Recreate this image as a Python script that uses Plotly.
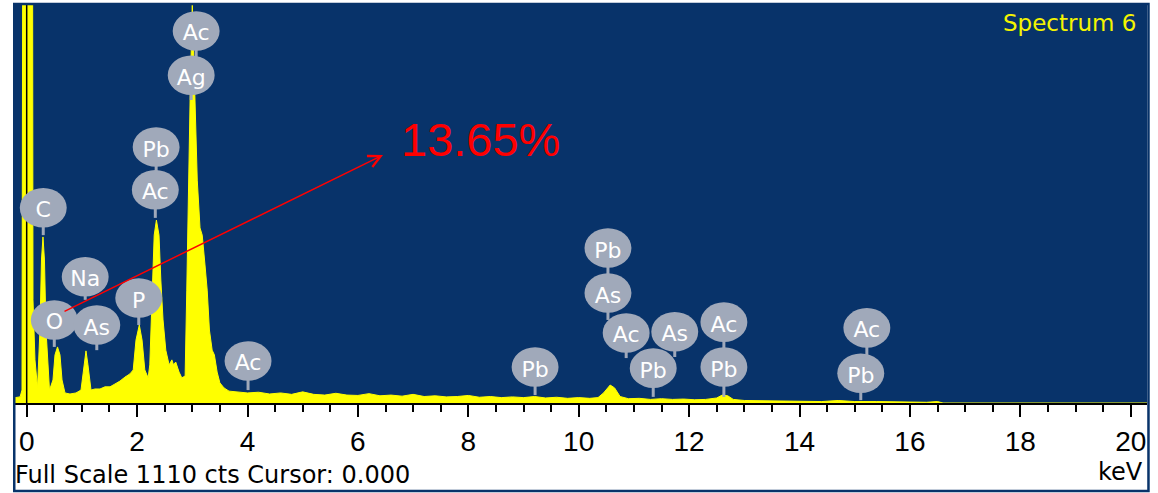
import plotly.graph_objects as go

# ---------------- data ----------------
# EDS spectrum: energy (keV) and counts
energy_kev = [-0.25, -0.12, -0.085, -0.07, 0.105, 0.114, 0.15, 0.196, 0.24, 0.268, 0.295, 0.322, 0.35,
              0.413, 0.476, 0.513, 0.558, 0.603, 0.64, 0.694, 0.784, 0.893, 0.984, 1.04, 1.074, 1.11,
              1.165, 1.237, 1.328, 1.418, 1.51, 1.6, 1.69, 1.78, 1.87, 1.93, 1.98, 2.04, 2.09, 2.14,
              2.2, 2.23, 2.27, 2.31, 2.35, 2.397, 2.43, 2.47, 2.52, 2.58, 2.63, 2.66, 2.70, 2.76, 2.81,
              2.87, 2.90, 2.93, 2.96, 3.00, 3.05, 3.09, 3.14, 3.18, 3.23, 3.27, 3.31, 3.36, 3.40, 3.45,
              3.50, 3.575, 3.665, 3.8, 4.0, 4.2, 4.4, 4.6, 4.8, 5.0, 5.2, 5.4, 5.6, 5.8, 6.0, 6.2, 6.4,
              6.6, 6.8, 7.0, 7.2, 7.4, 7.6, 7.8, 8.0, 8.2, 8.4, 8.6, 8.8, 9.0, 9.2, 9.4, 9.6, 9.8, 10.0,
              10.2, 10.35, 10.45, 10.57, 10.65, 10.75, 10.9, 11.1, 11.3, 11.5, 11.7, 11.9, 12.1, 12.3,
              12.5, 12.6, 12.7, 12.8, 13.0, 13.3, 13.6, 14.0, 14.4, 14.7, 15.0, 15.4, 15.8, 16.1, 16.3,
              16.5, 16.6, 20.3]
counts = [14, 17, 36, 1500, 1500, 287, 120, 42, 203, 398, 462, 398, 203,
          36, 64, 134, 156, 134, 64, 28, 25, 28, 36, 106, 145, 106,
          36, 39, 39, 45, 45, 53, 61, 72, 81, 92, 175, 217, 175, 92,
          70, 106, 314, 467, 509, 467, 342, 231, 147, 106, 120, 106, 114, 86, 70,
          75, 314, 620, 843, 1107, 843, 620, 487, 467, 384, 314, 203, 147, 134, 86,
          56, 42, 33, 31, 28, 30, 25, 28, 24, 31, 24, 22, 27, 22, 21, 26, 20,
          22, 19, 24, 18, 20, 17, 18, 21, 16, 18, 15, 17, 15, 18, 14, 16, 13, 15,
          13, 15, 28, 50, 42, 18, 12, 13, 10, 12, 10, 11, 9, 10,
          14, 22, 20, 10, 7, 6, 5, 5, 4, 7, 4, 4, 3, 3, 2,
          4, 0, 0]

# Element-marker balloons
label_text = ["Ac", "Ag", "Pb", "Ac", "C", "Na", "O", "As", "P", "Ac",
              "Pb", "Pb", "As", "Ac", "As", "Pb", "Ac", "Pb", "Ac", "Pb"]
label_kev = [3.07, 2.98, 2.345, 2.33, 0.30, 1.06, 0.50, 1.27, 2.03, 4.01,
             9.21, 10.53, 10.53, 10.86, 11.74, 11.35, 12.63, 12.63, 15.22, 15.11]
label_cts = [1035, 912, 712, 593, 543, 351, 231, 217, 292, 117,
             100, 431, 306, 195, 198, 97, 225, 100, 209, 83]
stem_cts = [912, 843, 593, 515, 467, 287, 156, 147, 217, 36,
            22, 306, 231, 125, 128, 17, 100, 17, 83, 8]

full_scale = 1110
x_range = [-0.248, 20.295]
tick_values = [0, 2, 4, 6, 8, 10, 12, 14, 16, 18, 20]

# annotation text
title_text = "Spectrum 6"
footer_text = "Full Scale 1110 cts Cursor: 0.000"
unit_text = "keV"
percent_text = "13.65%"

# ---------------- styling ----------------
BG = "#08336A"
BLOB = "#A0A9BA"
YELLOW = "#FFFF00"
BLOB_W = 0.85   # keV
BLOB_H = 110    # counts

fig = go.Figure()
fig.add_trace(go.Scatter(
    x=energy_kev, y=counts, mode="lines", fill="tozeroy",
    fillcolor=YELLOW, line=dict(color=YELLOW, width=1), hoverinfo="skip",
    showlegend=False))

shapes = []
# y axis line at 0 keV
shapes.append(dict(type="line", xref="x", yref="paper", x0=0, x1=0, y0=0, y1=1,
                   line=dict(color="black", width=1.5), layer="above"))
# stems
for e, c, s in zip(label_kev, label_cts, stem_cts):
    shapes.append(dict(type="line", xref="x", yref="y", x0=e, x1=e, y0=c, y1=s,
                       line=dict(color=BLOB, width=3), layer="above"))
# balloons
for t, e, c in zip(label_text, label_kev, label_cts):
    shapes.append(dict(type="circle", xref="x", yref="y",
                       x0=e - BLOB_W / 2, x1=e + BLOB_W / 2,
                       y0=c - BLOB_H / 2, y1=c + BLOB_H / 2,
                       fillcolor=BLOB, line=dict(width=0), layer="above",
                       label=dict(text=t, font=dict(family="DejaVu Sans", size=22, color="white"),
                                  textposition="middle center")))
# frame around the panel
shapes.append(dict(type="rect", xref="paper", yref="paper",
                   x0=0.0011, x1=1.0013, y0=-0.2206, y1=1.0,
                   line=dict(color=BG, width=2.5), fillcolor="rgba(0,0,0,0)", layer="above"))

annotations = [
    dict(x=6.455, y=690, ax=0.658, ay=253, xref="x", yref="y", axref="x", ayref="y",
         text="", showarrow=True, arrowhead=5, arrowsize=1.6, arrowwidth=1.5,
         arrowcolor="#FF0000", standoff=0, startstandoff=0),
    dict(x=6.75, y=732, xref="x", yref="y", text=percent_text, showarrow=False,
         xanchor="left", yanchor="middle",
         font=dict(family="Liberation Sans, Arial", size=47, color="#FF0000")),
    dict(x=0.992, y=0.952, xref="paper", yref="paper", text=title_text, showarrow=False,
         xanchor="right", yanchor="middle",
         font=dict(family="DejaVu Sans", size=23, color="#F4F400")),
    dict(x=0.0, y=-0.1805, xref="paper", yref="paper", text=footer_text, showarrow=False,
         xanchor="left", yanchor="middle",
         font=dict(family="DejaVu Sans", size=24, color="black")),
    dict(x=0.998, y=-0.173, xref="paper", yref="paper", text=unit_text, showarrow=False,
         xanchor="right", yanchor="middle",
         font=dict(family="DejaVu Sans", size=24, color="black")),
]

fig.update_layout(
    width=1158, height=493,
    margin=dict(l=13, r=11, t=4, b=90),
    paper_bgcolor="white", plot_bgcolor=BG,
    showlegend=False,
    shapes=shapes, annotations=annotations,
    xaxis=dict(range=x_range, showgrid=False, zeroline=False,
               showline=True, linecolor="black", linewidth=2,
               ticks="outside", ticklen=12, tickwidth=2, tickcolor="black",
               tickvals=tick_values, ticktext=[str(v) for v in tick_values],
               tickfont=dict(family="Liberation Sans, Arial", size=28, color="black"),
               minor=dict(dtick=0.5, tick0=0, ticks="outside", ticklen=7, tickwidth=2,
                          tickcolor="black", showgrid=False),
               fixedrange=True),
    yaxis=dict(range=[0, full_scale], visible=False, fixedrange=True),
)

fig.write_html("out.html", config={"displayModeBar": False},
               post_script="document.body.style.margin='0';document.body.style.overflow='hidden';")
